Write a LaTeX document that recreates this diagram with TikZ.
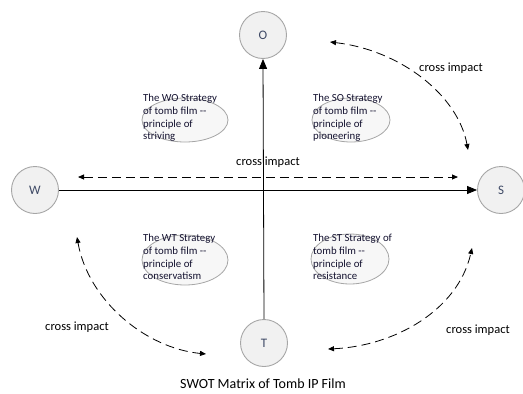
\documentclass[tikz,border=0pt]{standalone}
\usepackage{fontspec}
\setmainfont{Carlito}
\usetikzlibrary{arrows.meta,shapes.geometric}
\definecolor{circfill}{HTML}{F1F1F1}
\definecolor{circline}{HTML}{A6A6A6}
\definecolor{elltext}{HTML}{141230}
\definecolor{lettcol}{HTML}{3F4A66}
\tikzset{
  swot/.style={circle, draw=circline, fill=circfill, line width=0.9pt, minimum size=47pt, inner sep=0pt, text=lettcol, font=\fontsize{13}{15}\selectfont},
  strat/.style={ellipse, draw=circline, fill=circfill!60!white, line width=0.8pt, inner sep=0pt},
  strattext/.style={anchor=north west, align=left, inner sep=0pt, text=elltext, font=\fontsize{10.8}{12.7}\selectfont},
  axis/.style={draw=black, line width=0.8pt, -{Triangle[length=10pt,width=8pt]}},
  cross/.style={draw=black, line width=0.8pt, dash pattern=on 9pt off 5pt, {Triangle[length=6pt,width=5pt]}-{Triangle[length=6pt,width=5pt]}},
  crosslabel/.style={font=\fontsize{12.5}{14}\selectfont, inner sep=1pt},
}
\begin{document}
\begin{tikzpicture}[x=1pt,y=-1pt]
\useasboundingbox (0,0) rectangle (523,394);
% circles
\node[swot] (O) at (263,35) {O};
\node[swot] (W) at (35,190) {W};
\node[swot] (S) at (501,190) {S};
\node[swot] (T) at (264,343) {T};
% axes
\draw[axis] (T.north) -- (O.south);
\draw[axis] (W.east) -- (S.west);
% strategy ellipses
\node[strat, minimum width=86pt, minimum height=44pt] (WOe) at (185,120) {};
\node[strat, minimum width=78pt, minimum height=44pt] (SOe) at (351,120) {};
\node[strat, minimum width=86pt, minimum height=50pt] (WTe) at (185,260) {};
\node[strat, minimum width=78pt, minimum height=50pt] (STe) at (350,259) {};
\node[strattext] (WOt) at (143,94) {The WO Strategy\\of tomb film -{}-\\principle of\\striving};
\node[strattext] (SOt) at (313,94) {The SO Strategy\\of tomb film -{}-\\principle of\\pioneering};
\node[strattext] (WTt) at (143,234) {The WT Strategy\\of tomb film -{}-\\principle of\\conservatism};
\node[strattext] (STt) at (313,234) {The ST Strategy of\\tomb film -{}-\\principle of\\resistance};
% cross impact arrows
\coordinate (h1) at (78,177);
\coordinate (h2) at (458,177);
\draw[cross] (h1) -- (h2);
\node[crosslabel] (hl) at (268,162) {cross impact};
\coordinate (tr1) at (330,42);
\coordinate (tr2) at (468,150);
\draw[cross] (tr1) .. controls (400,50) and (458,95) .. (tr2);
\node[crosslabel] (trl) at (451,68) {cross impact};
\coordinate (bl1) at (77,237);
\coordinate (bl2) at (206,354);
\draw[cross] (bl1) .. controls (88,300) and (145,348) .. (bl2);
\node[crosslabel] (bll) at (77,327) {cross impact};
\coordinate (br1) at (328,349);
\coordinate (br2) at (472,248);
\draw[cross] (br1) .. controls (395,346) and (458,310) .. (br2);
\node[crosslabel] (brl) at (478,330) {cross impact};
% caption
\node[font=\fontsize{14}{16}\selectfont] (cap) at (263,384) {SWOT Matrix of Tomb IP Film};
\end{tikzpicture}
\end{document}
